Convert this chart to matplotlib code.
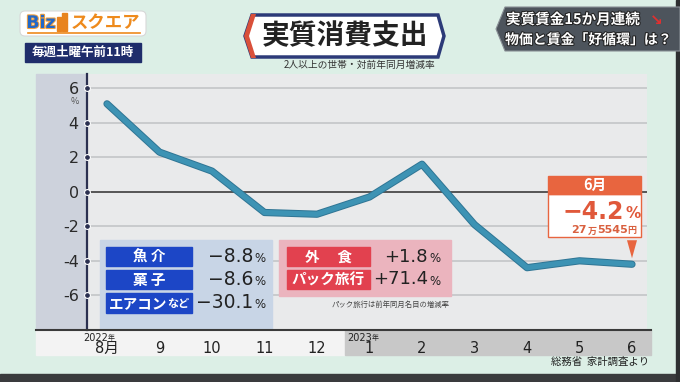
import numpy as np
import matplotlib
matplotlib.use('Agg')
import matplotlib.pyplot as plt
from matplotlib.patches import Rectangle, Polygon, FancyBboxPatch
import matplotlib.patheffects as pe

plt.rcParams['font.family'] = ['Noto Sans CJK JP', 'DejaVu Sans']

# data: real consumption expenditure, y/y change (%), Aug 2022 - Jun 2023
months = ['8月', '9', '10', '11', '12', '1', '2', '3', '4', '5', '6']
spending = [5.1, 2.3, 1.2, -1.2, -1.3, -0.3, 1.6, -1.9, -4.4, -4.0, -4.2]
yticks = [6, 4, 2, 0, -2, -4, -6]
ytick_labels = ['6', '4', '2', '0', '-2', '-4', '-6']

down_items = ['魚 介', '菓 子', 'エアコン']
down_values = ['−8.8', '−8.6', '−30.1']
up_items = ['外　 食', 'パック旅行']
up_values = ['+1.8', '+71.4']

W, H = 680, 382
fig = plt.figure(figsize=(W / 100, H / 100), dpi=100)
fig.patch.set_facecolor('#dcefe6')

# background layer in pixel coords
bg = fig.add_axes([0, 0, 1, 1])
bg.set_xlim(0, W)
bg.set_ylim(H, 0)
bg.axis('off')
bg.add_patch(Rectangle((36, 74), 51, 256, color='#cdd2dc'))
bg.add_patch(Rectangle((0, 374), W, 8, color='#3a3b3d'))
bg.add_patch(Rectangle((676, 0), 4, H, color='#2e2f31'))
bg.add_patch(Rectangle((36, 330), 309, 25, color='#f3f3f3'))
bg.add_patch(Rectangle((345, 330), 306, 25, color='#c8c8c8'))

# main chart
L, R, T, B = 87, 647, 74, 330
ax = fig.add_axes([L / W, 1 - B / H, (R - L) / W, (B - T) / H])
ax.set_facecolor('#e9eaeb')
x = np.arange(len(spending))
px_unit = 52.5
ax.set_xlim((L - 107) / px_unit, (R - 107) / px_unit)
ax.set_ylim((191.8 - B) / 17.25, (191.8 - T) / 17.25)

for v in yticks:
    if v == 0:
        ax.axhline(v, color='#4a4a4a', lw=1.3, zorder=1)
    else:
        ax.axhline(v, color='#c6c8ca', lw=1.3, zorder=1)

ax.plot(x, spending, color='#3d93b4', lw=3.8, solid_joinstyle='round',
        solid_capstyle='round', zorder=3,
        path_effects=[pe.Stroke(linewidth=5.2, foreground='#2f7594'), pe.Normal()])

for s in ['top', 'right', 'bottom']:
    ax.spines[s].set_visible(False)
ax.spines['left'].set_color('#2b3050')
ax.spines['left'].set_linewidth(1.6)
ax.set_yticks(yticks)
ax.set_yticklabels(ytick_labels, family='DejaVu Sans', fontsize=11.5, color='#2a2a2a')
ax.tick_params(axis='y', length=0, pad=6)
ax.set_xticks([])
ax.plot(np.zeros(len(yticks)), yticks, 'o', transform=ax.get_yaxis_transform(),
        clip_on=False, ms=4.2, mfc='#2b3050', mec='white', mew=0.8, zorder=5)

# month labels under the axis
for i, lab in enumerate(months):
    ax.text(i, -0.072, lab, transform=ax.get_xaxis_transform(), ha='center',
            va='center', fontsize=10.5, color='#222',
            family=['DejaVu Sans', 'Noto Sans CJK JP'])
for xi, yr in [(0.02, '2022'), (5.05, '2023')]:
    ax.text(xi, -0.03, yr, transform=ax.get_xaxis_transform(), ha='right',
            va='center', fontsize=7, color='#222', family='DejaVu Sans')
    ax.text(xi, -0.03, '年', transform=ax.get_xaxis_transform(), ha='left',
            va='center', fontsize=5, color='#222')

# overlay layer in pixel coords
ov = fig.add_axes([0, 0, 1, 1])
ov.set_xlim(0, W)
ov.set_ylim(H, 0)
ov.axis('off')
ov.patch.set_alpha(0)

ov.plot([36, 651], [330, 330], color='#3a3a3a', lw=1.5)
ov.text(75, 101, '%', ha='center', va='center', fontsize=6.5, color='#555')

# header
ov.add_patch(FancyBboxPatch((20, 11), 126, 25, boxstyle='round,pad=0,rounding_size=5',
                            fc='white', ec='#d8d8d8', lw=0.8))
ov.text(41, 23, 'Biz', ha='center', va='center', fontsize=12.5, fontweight='bold',
        color='#2268c8', family='DejaVu Sans',
        path_effects=[pe.withStroke(linewidth=1.5, foreground='#f0a040')])
ov.add_patch(Rectangle((57, 17), 4, 14, color='#e8831e'))
ov.add_patch(Rectangle((62, 13), 5, 18, color='#e8831e'))
ov.text(105, 23, 'スクエア', ha='center', va='center', fontsize=12.5,
        fontweight='bold', color='#ee8a1c')
ov.plot([28, 140], [33, 33], color='#ee8a1c', lw=1.2)
ov.add_patch(Rectangle((25, 43), 116, 19, color='#1f2d6b'))
ov.text(83, 52.5, '毎週土曜午前11時', ha='center', va='center', fontsize=9,
        fontweight='bold', color='white')

ov.add_patch(Polygon([(245, 36), (252, 15), (438, 15), (444, 36), (438, 57), (252, 57)],
                     closed=True, fc='white', ec='#2c3a78', lw=2.5))
ov.add_patch(Polygon([(244, 36), (251, 14), (256, 14), (249, 36), (256, 58), (251, 58)],
                     closed=True, fc='#d9503a', ec='none'))
ov.text(345, 36, '実質消費支出', ha='center', va='center', fontsize=20,
        fontweight='bold', color='#222')
ov.text(360, 65, '2人以上の世帯・対前年同月増減率', ha='center', va='center',
        fontsize=7, color='#333')

ov.add_patch(Polygon([(496, 29), (505, 7), (680, 7), (680, 51), (505, 51)],
                     closed=True, fc='#4d545c', ec='#8a9096', lw=0.8))
stroke = [pe.withStroke(linewidth=1.5, foreground='#222')]
ov.text(506, 19, '実質賃金15か月連続', ha='left', va='center', fontsize=10.5,
        fontweight='bold', color='white', path_effects=stroke)
ov.text(656, 20, '↘', ha='center', va='center', fontsize=11, fontweight='bold',
        color='#e03030', family='DejaVu Sans')
ov.text(505, 40, '物価と賃金「好循環」は？', ha='left', va='center', fontsize=10,
        fontweight='bold', color='white', path_effects=stroke)

# inset panels
ov.add_patch(Rectangle((100, 240), 172, 89, color='#c8d5e6'))
rows = [(247, 266), (270, 289), (293, 313)]
for (y0, y1), item, val in zip(rows, down_items, down_values):
    yc = (y0 + y1) / 2
    ov.add_patch(Rectangle((106, y0), 86, y1 - y0, color='#1c46c6'))
    if item == 'エアコン':
        ov.text(167, yc, item, ha='right', va='center', fontsize=10.5,
                fontweight='bold', color='white')
        ov.text(167, yc + 1, 'など', ha='left', va='center', fontsize=8,
                fontweight='bold', color='white')
    else:
        ov.text(149, yc, item, ha='center', va='center', fontsize=10.5,
                fontweight='bold', color='white')
    ov.text(253, yc, val, ha='right', va='center', fontsize=13.5, color='#222',
            family='DejaVu Sans')
    ov.text(254, yc + 2, '%', ha='left', va='center', fontsize=8.5, color='#222',
            family='DejaVu Sans')

ov.add_patch(Rectangle((279, 240), 172, 56, color='#ebb4be'))
for (y0, y1), item, val in zip(rows[:2], up_items, up_values):
    yc = (y0 + y1) / 2
    ov.add_patch(Rectangle((287, y0), 83, y1 - y0, color='#e2414f'))
    ov.text(328.5, yc, item, ha='center', va='center', fontsize=10.5,
            fontweight='bold', color='white')
    ov.text(428, yc, val, ha='right', va='center', fontsize=13, color='#222',
            family='DejaVu Sans')
    ov.text(429, yc + 2, '%', ha='left', va='center', fontsize=8.5, color='#222',
            family='DejaVu Sans')
ov.text(391, 305, 'パック旅行は前年同月名目の増減率', ha='center', va='center',
        fontsize=5.3, color='#444')

# callout for the last point
fig.canvas.draw()
lx, ly = ax.transData.transform((x[-1], spending[-1]))
ly = H - ly
ov.add_patch(Polygon([(lx - 5, ly - 24), (lx + 5, ly - 24), (lx, ly - 6)],
                     closed=True, fc='#e8653f', ec='none'))
bx0, bx1 = lx - 84, lx + 9
ov.add_patch(Rectangle((bx0, 194), bx1 - bx0, 43, fc='white', ec='#e8653f', lw=1))
ov.add_patch(Rectangle((bx0, 176), bx1 - bx0, 18, fc='#e8653f', ec='#e8653f', lw=1))
ov.text((bx0 + bx1) / 2, 185, '6月', ha='center', va='center', fontsize=10.5,
        fontweight='bold', color='white')
ov.text(624, 212, '−4.2', ha='right', va='center', fontsize=17, fontweight='bold',
        color='#e0583a', family='DejaVu Sans')
ov.text(625, 214, '%', ha='left', va='center', fontsize=11, fontweight='bold',
        color='#e0583a', family='DejaVu Sans')
ov.text(587, 230, '27', ha='right', va='center', fontsize=8, fontweight='bold',
        color='#d9603f', family='DejaVu Sans')
ov.text(592, 231, '万', ha='center', va='center', fontsize=6.5, fontweight='bold',
        color='#d9603f')
ov.text(597, 230, '5545', ha='left', va='center', fontsize=8, fontweight='bold',
        color='#d9603f', family='DejaVu Sans')
ov.text(632, 231, '円', ha='center', va='center', fontsize=6.5, fontweight='bold',
        color='#d9603f')

ov.text(649, 362, '総務省  家計調査より', ha='right', va='center', fontsize=7.5,
        color='#222')

fig.savefig('out.png', dpi=100, facecolor=fig.get_facecolor())
